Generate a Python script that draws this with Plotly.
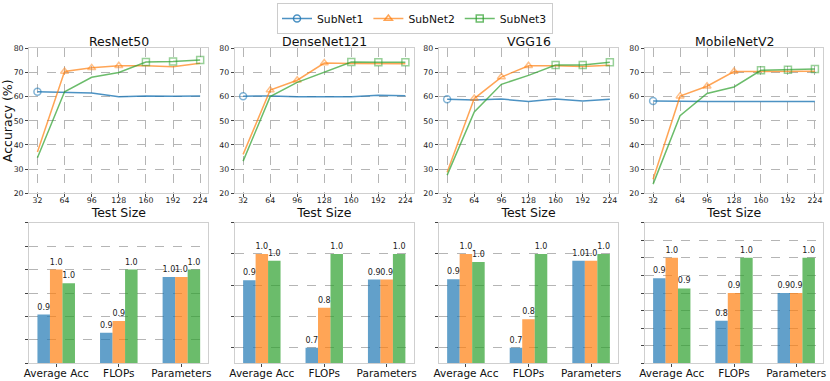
import plotly.graph_objects as go

# ---------------- data ----------------
models = ["ResNet50", "DenseNet121", "VGG16", "MobileNetV2"]
test_sizes = [32, 64, 96, 128, 160, 192, 224]
subnets = ["SubNet1", "SubNet2", "SubNet3"]

resnet50_acc = {
    "SubNet1": [62.0, 61.8, 61.5, 60.0, 60.3, 60.2, 60.3],
    "SubNet2": [37.1, 70.4, 71.9, 72.8, 72.8, 72.4, 73.8],
    "SubNet3": [34.7, 62.0, 68.0, 70.0, 74.3, 74.5, 75.2],
}
densenet121_acc = {
    "SubNet1": [60.2, 60.3, 60.0, 60.0, 59.9, 60.6, 60.4],
    "SubNet2": [36.1, 62.7, 66.8, 73.9, 73.7, 73.6, 73.6],
    "SubNet3": [33.3, 60.0, 65.9, 70.1, 74.3, 74.2, 74.2],
}
vgg16_acc = {
    "SubNet1": [58.9, 58.6, 59.0, 58.0, 59.0, 58.2, 58.9],
    "SubNet2": [28.7, 59.2, 68.1, 72.8, 72.8, 72.5, 73.0],
    "SubNet3": [27.5, 53.7, 65.1, 68.8, 73.1, 73.1, 74.2],
}
mobilenetv2_acc = {
    "SubNet1": [58.2, 58.0, 58.0, 58.0, 58.0, 57.9, 58.0],
    "SubNet2": [25.8, 60.2, 64.3, 70.4, 70.4, 70.5, 70.5],
    "SubNet3": [23.8, 52.1, 61.3, 64.0, 70.9, 71.1, 71.4],
}
accuracy = [resnet50_acc, densenet121_acc, vgg16_acc, mobilenetv2_acc]

# indices of points highlighted with markers for each subnet
highlight_idx = {"SubNet1": [0], "SubNet2": [1, 2, 3], "SubNet3": [4, 5, 6]}

metrics = ["Average Acc", "FLOPs", "Parameters"]
resnet50_bars = {
    "SubNet1": [0.904, 0.865, 0.984],
    "SubNet2": [1.000, 0.890, 0.984],
    "SubNet3": [0.971, 1.000, 1.000],
}
densenet121_bars = {
    "SubNet1": [0.916, 0.700, 0.918],
    "SubNet2": [1.000, 0.828, 0.918],
    "SubNet3": [0.978, 1.000, 1.000],
}
vgg16_bars = {
    "SubNet1": [0.919, 0.700, 0.978],
    "SubNet2": [1.000, 0.791, 0.978],
    "SubNet3": [0.974, 1.000, 1.000],
}
mobilenetv2_bars = {
    "SubNet1": [0.942, 0.821, 0.900],
    "SubNet2": [1.000, 0.900, 0.900],
    "SubNet3": [0.913, 1.000, 1.000],
}
bars = [resnet50_bars, densenet121_bars, vgg16_bars, mobilenetv2_bars]
bar_ranges = [[0.8, 1.1], [0.65, 1.1], [0.65, 1.1], [0.7, 1.1]]
bar_dticks = [0.05, 0.1, 0.1, 0.05]

# ---------------- style ----------------
W, H = 830, 381
line_colors = {"SubNet1": "rgba(31,119,180,0.8)", "SubNet2": "rgba(255,127,14,0.7)",
               "SubNet3": "rgba(44,160,44,0.7)"}
bar_colors = {"SubNet1": "rgba(31,119,180,0.7)", "SubNet2": "rgba(255,127,14,0.7)",
              "SubNet3": "rgba(44,160,44,0.7)"}
symbols = {"SubNet1": "circle-open", "SubNet2": "triangle-up-open", "SubNet3": "square-open"}
FONT = "DejaVu Sans"

x_px = [(29.3, 208.3), (235, 413.5), (439, 618), (645, 823)]
top_px = (48.3, 193.3)
bot_px = (222.7, 363.3)


def xd(p):
    return [p[0] / W, p[1] / W]


def yd(p):
    return [(H - p[1]) / H, (H - p[0]) / H]


fig = go.Figure()
layout = {}
common = dict(showline=True, mirror=True, linecolor="#cfcfcf", linewidth=1.3,
              ticks="outside", ticklen=3, tickcolor="#444", zeroline=False, automargin=False)
grid = dict(showgrid=True, griddash="dash", gridcolor="#b5b5b5", gridwidth=0.8)

for i, m in enumerate(models):
    # ---- top: line plots ----
    xa = "x" if i == 0 else f"x{i + 1}"
    ya = "y" if i == 0 else f"y{i + 1}"
    for s in subnets:
        vals = accuracy[i][s]
        sizes = [7 if k in highlight_idx[s] else 0 for k in range(len(vals))]
        fig.add_trace(go.Scatter(
            x=test_sizes, y=vals, mode="lines+markers", name=s, showlegend=False,
            line=dict(color=line_colors[s], width=1.5),
            marker=dict(symbol=symbols[s], size=sizes, color=line_colors[s],
                        line=dict(width=1.5, color=line_colors[s])),
            xaxis=xa, yaxis=ya, legendgroup=s))
    axname_x = "xaxis" if i == 0 else f"xaxis{i + 1}"
    axname_y = "yaxis" if i == 0 else f"yaxis{i + 1}"
    layout[axname_x] = dict(
        domain=xd(x_px[i]), anchor=ya, range=[22.4, 233.6], tickvals=test_sizes,
        tickfont=dict(size=7.8, color="#222"), ticklabelstandoff=-4,
        title=dict(text="Test Size", font=dict(size=12.5, color="#111"), standoff=0),
        **grid, **common)
    layout[axname_y] = dict(
        domain=yd(top_px), anchor=xa, range=[20, 80], dtick=10,
        tickfont=dict(size=7.8, color="#222"), **grid, **common)
    if i == 0:
        layout[axname_y]["title"] = dict(text="Accuracy (%)", font=dict(size=12.5, color="#111"),
                                         standoff=4)

    # ---- bottom: bar plots ----
    j = i + 5
    xb, yb = f"x{j}", f"y{j}"
    for s in subnets:
        fig.add_trace(go.Bar(
            x=metrics, y=bars[i][s], name=s, showlegend=False,
            marker=dict(color=bar_colors[s], line=dict(width=0)),
            texttemplate="%{y:.1f}", textposition="outside", constraintext="none",
            textfont=dict(size=8, color="#222"), cliponaxis=False,
            xaxis=xb, yaxis=yb, legendgroup=s))
    layout[f"xaxis{j}"] = dict(
        domain=xd(x_px[i]), anchor=yb, range=[-0.43, 2.43],
        tickfont=dict(size=10.5, color="#111"), ticklabelstandoff=-3,
        showgrid=False, **common)
    layout[f"yaxis{j}"] = dict(
        domain=yd(bot_px), anchor=xb, range=bar_ranges[i], dtick=bar_dticks[i],
        showticklabels=False, **grid, **common)

# legend entries
for s in subnets:
    fig.add_trace(go.Scatter(
        x=[None], y=[None], mode="lines+markers", name=s,
        line=dict(color=line_colors[s], width=1.5),
        marker=dict(symbol=symbols[s], size=7, color=line_colors[s],
                    line=dict(width=1.5, color=line_colors[s])),
        legendgroup=s))

annotations = []
for i, m in enumerate(models):
    cx = (x_px[i][0] + x_px[i][1]) / 2 / W
    annotations.append(dict(text=m, x=cx, y=(H - 41.5) / H, xref="paper", yref="paper",
                            xanchor="center", yanchor="middle", showarrow=False,
                            font=dict(size=12.5, color="#111")))

fig.update_layout(
    width=W, height=H, margin=dict(l=0, r=0, t=0, b=0),
    paper_bgcolor="white", plot_bgcolor="white",
    font=dict(family=FONT, color="#111"),
    barmode="group", bargap=0.4, bargroupgap=0,
    annotations=annotations,
    legend=dict(orientation="h", x=0.5, xanchor="center", y=(H - 3) / H, yanchor="top",
                bordercolor="#cccccc", borderwidth=1, font=dict(size=10.8),
                itemwidth=30, tracegroupgap=0),
    **layout)

fig.write_html("out.html", config={"displayModeBar": False},
               post_script="document.body.style.margin='0px';document.body.style.overflow='hidden';")
